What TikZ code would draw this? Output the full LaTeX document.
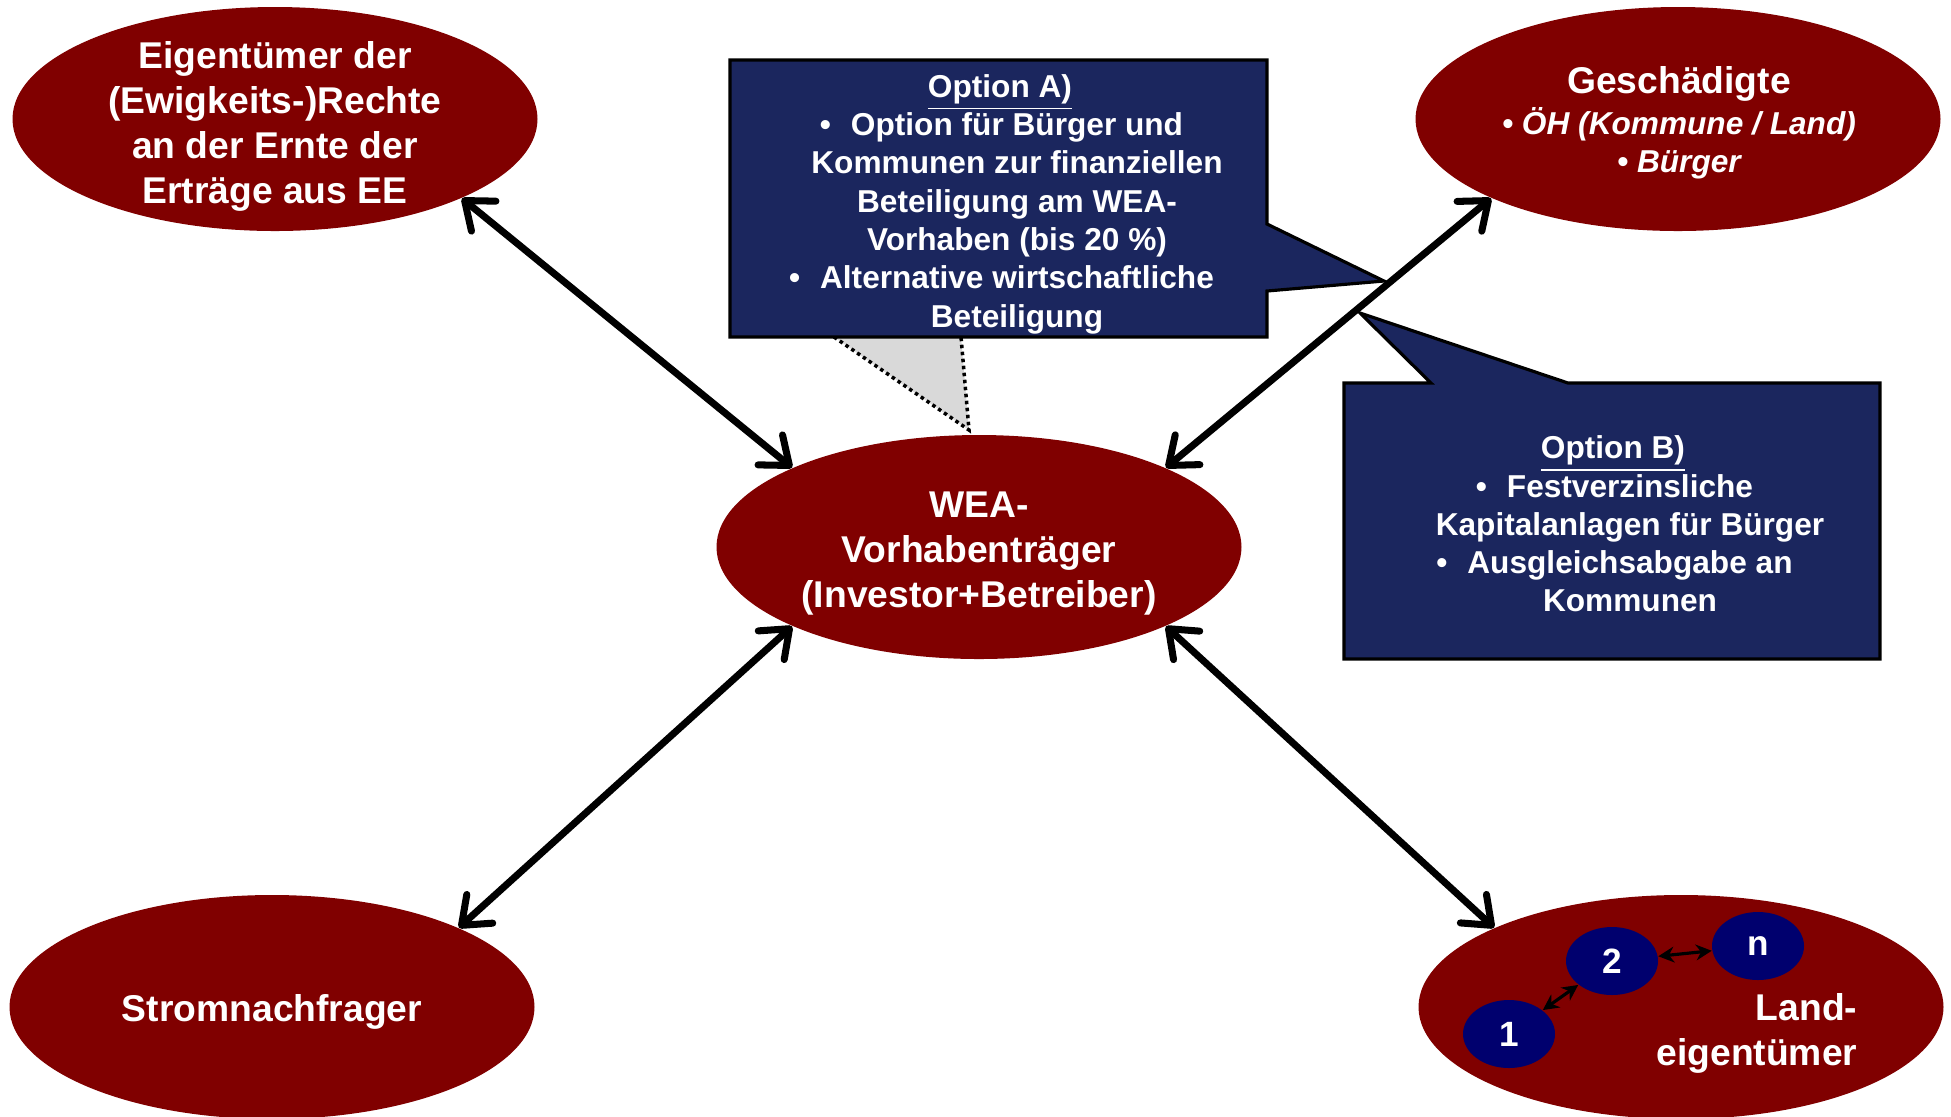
\documentclass[tikz,border=0pt]{standalone}
\usepackage{fontspec}
\setmainfont{Liberation Sans}
\usepackage{xcolor}
\usepackage{tikz}
\usetikzlibrary{shapes}
\usetikzlibrary{arrows.meta}
\definecolor{darkred}{RGB}{128,0,0}
\definecolor{boxblue}{RGB}{27,38,94}
\definecolor{ownerblue}{RGB}{0,0,110}
\definecolor{hintgray}{RGB}{217,217,217}
\tikzset{ party/.style = {ellipse, fill=darkred, inner sep=0pt, minimum width=5.25cm, minimum height=2.24cm} }
\tikzset{ party_text/.style = {text=white, align=center, inner sep=0pt, font=\bfseries\fontsize{10.6}{12.8}\selectfont} }
\tikzset{ owner/.style = {ellipse, fill=ownerblue, text=white, inner sep=0pt, minimum width=0.92cm, minimum height=0.68cm, font=\bfseries\fontsize{10}{12}\selectfont} }
\tikzset{ opt_box/.style = {fill=boxblue, draw=black, line width=0.9pt, line join=miter} }
\tikzset{ opt_text/.style = {text=white, align=center, inner sep=0pt, font=\bfseries\fontsize{9}{10.9}\selectfont} }
\tikzset{ hint/.style = {fill=hintgray, draw=black, line width=1pt, dash pattern=on 1pt off 1pt} }
\tikzset{ link/.style = {line width=2pt, <->, >={Straight Barb[length=7pt,width=11pt,round]}} }
\tikzset{ small_link/.style = {line width=0.9pt, <->, >={Stealth[length=4.5pt,width=4.5pt]}} }

\begin{document}
\begin{tikzpicture}
    \useasboundingbox (0,0) rectangle (19.51,-11.16);
    \node[party] (eig) at (2.75,-1.19) {};
    \node[party] (gesch) at (16.78,-1.19) {};
    \node[party] (wea) at (9.79,-5.47) {};
    \node[party] (strom) at (2.72,-10.07) {};
    \node[party] (land) at (16.81,-10.07) {};
    \node[party_text] (eig_t) at (2.75,-1.26) {Eigentümer der\\(Ewigkeits-)Rechte\\an der Ernte der\\Erträge aus EE};
    \node[party_text] (gesch_t) at (16.79,-1.23) {Geschädigte\\[-1.1pt]{\fontsize{9}{10.9}\selectfont\itshape • ÖH (Kommune / Land)}\\[-2pt]{\fontsize{9}{10.9}\selectfont\itshape • Bürger}};
    \node[party_text] (wea_t) at (9.79,-5.54) {WEA-\\Vorhabenträger\\(Investor+Betreiber)};
    \node[party_text] (strom_t) at (2.72,-10.12) {Stromnachfrager};
    \node[party_text, align=right, anchor=east] (land_t) at (18.58,-10.33) {Land-\\eigentümer};
    \node[owner] (l1) at (15.09,-10.34) {1};
    \node[owner] (l2) at (16.12,-9.61) {2};
    \node[owner] (ln) at (17.58,-9.46) {n};
    \draw[small_link] (l1) -- (l2);
    \draw[small_link] (l2) -- (ln);

    \coordinate (cue) at (9.69,-4.30);
    \coordinate (tip_a) at (13.84,-2.81);
    \coordinate (tip_b) at (13.60,-3.13);
    \draw[hint] (8.34,-3.37) -- (cue) -- (9.61,-3.37);
    \draw[opt_box] (7.30,-0.60) -- (12.67,-0.60) -- (12.67,-2.24) -- (tip_a) -- (12.67,-2.91) -- (12.67,-3.37) -- (7.30,-3.37) -- cycle;
    \draw[opt_box] (13.44,-3.83) -- (14.31,-3.83) -- (tip_b) -- (15.68,-3.83) -- (18.80,-3.83) -- (18.80,-6.59) -- (13.44,-6.59) -- cycle;
    \node[opt_text] (opt_a) at (10.17,-2.04) {\underline{Option A)}\rule{9.7pt}{0pt}\\\llap{•\hspace{5.7pt}}Option für Bürger und\\Kommunen zur finanziellen\\Beteiligung am WEA-\\Vorhaben (bis 20~\%)\\\llap{•\hspace{5.7pt}}Alternative wirtschaftliche\\Beteiligung};
    \node[opt_text] (opt_b) at (16.30,-5.24) {\underline{Option B)}\rule{9.7pt}{0pt}\\\llap{•\hspace{5.7pt}}Festverzinsliche\\Kapitalanlagen für Bürger\\\llap{•\hspace{5.7pt}}Ausgleichsabgabe an\\Kommunen};

    \draw[link] (eig.-23) -- (wea.157);
    \draw[link] (gesch.203) -- (wea.23);
    \draw[link] (strom.23) -- (wea.203);
    \draw[link] (land.157) -- (wea.-23);
\end{tikzpicture}
\end{document}
